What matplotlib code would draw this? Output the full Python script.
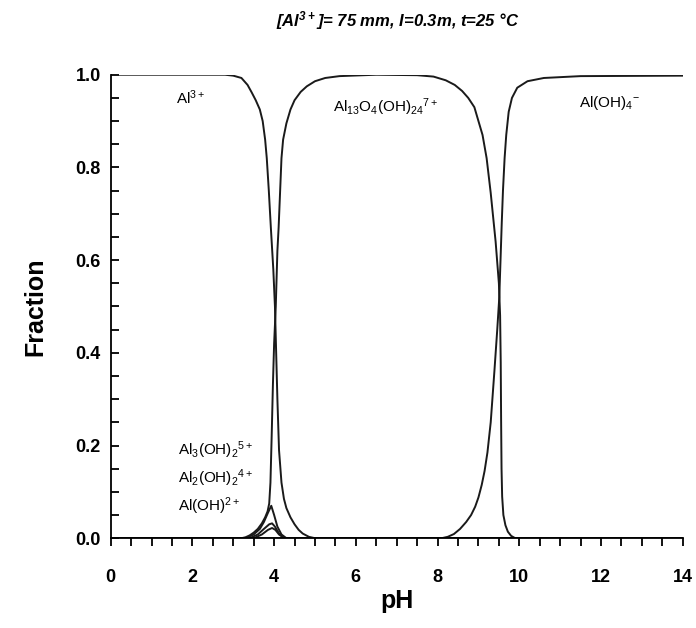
import matplotlib
matplotlib.use("Agg")
import matplotlib.pyplot as plt
from matplotlib.ticker import MultipleLocator

plt.rcParams['font.family'] = ['Liberation Sans', 'DejaVu Sans']
plt.rcParams['mathtext.default'] = 'regular'

# values
al3_ph = [0, 2.0, 2.8, 3.0, 3.2, 3.35, 3.45, 3.55, 3.65, 3.72, 3.78, 3.82, 3.87, 3.92, 3.98,
          4.02, 4.05, 4.08, 4.12, 4.18, 4.24, 4.3, 4.4, 4.5, 4.6, 4.7, 4.85, 5.0, 14]
al3_frac = [1.0, 1.0, 1.0, 0.998, 0.993, 0.978, 0.962, 0.945, 0.925, 0.90, 0.86, 0.82, 0.75, 0.67, 0.58,
            0.50, 0.40, 0.30, 0.19, 0.12, 0.085, 0.065, 0.045, 0.03, 0.018, 0.01, 0.003, 0.0, 0.0]

al13_ph = [0, 3.2, 3.3, 3.4, 3.5, 3.6, 3.7, 3.78, 3.84, 3.88, 3.91, 3.94, 3.97, 4.0, 4.04,
           4.08, 4.11, 4.18, 4.22, 4.3, 4.4, 4.5, 4.65, 4.8, 5.0, 5.25, 5.6, 6.5, 7.5, 7.9,
           8.2, 8.42, 8.6, 8.75, 8.9, 9.0, 9.1, 9.2, 9.3, 9.42, 9.5, 9.53, 9.545, 9.555,
           9.565, 9.58, 9.61, 9.66, 9.72, 9.8, 9.9, 14]
al13_frac = [0.0, 0.0, 0.002, 0.006, 0.012, 0.02, 0.032, 0.045, 0.058, 0.075, 0.12, 0.22, 0.33, 0.42, 0.50,
             0.62, 0.67, 0.82, 0.86, 0.895, 0.925, 0.945, 0.963, 0.975, 0.986, 0.993, 0.997, 1.0, 0.999, 0.996,
             0.988, 0.978, 0.965, 0.95, 0.93, 0.90, 0.87, 0.82, 0.745, 0.64, 0.55, 0.48, 0.38, 0.25,
             0.15, 0.09, 0.05, 0.028, 0.014, 0.005, 0.0, 0.0]

aloh4_ph = [0, 8.1, 8.25, 8.4, 8.55, 8.7, 8.82, 8.92, 9.0, 9.08, 9.15, 9.22, 9.3, 9.39, 9.46,
            9.51, 9.54, 9.57, 9.6, 9.64, 9.68, 9.74, 9.82, 9.95, 10.2, 10.6, 11.5, 14]
aloh4_frac = [0.0, 0.0, 0.003, 0.009, 0.02, 0.035, 0.05, 0.068, 0.088, 0.115, 0.145, 0.185, 0.25, 0.36, 0.45,
              0.52, 0.60, 0.68, 0.75, 0.82, 0.87, 0.92, 0.95, 0.972, 0.986, 0.993, 0.997, 0.998]

aloh_ph = [0, 3.3, 3.5, 3.65, 3.75, 3.85, 3.93, 4.0, 4.08, 4.18, 4.3, 14]
aloh_frac = [0, 0, 0.008, 0.02, 0.035, 0.055, 0.07, 0.05, 0.025, 0.008, 0, 0]

al2_ph = [0, 3.4, 3.6, 3.75, 3.88, 3.95, 4.02, 4.12, 4.25, 14]
al2_frac = [0, 0, 0.008, 0.02, 0.03, 0.032, 0.025, 0.01, 0, 0]

al3oh_ph = [0, 3.5, 3.7, 3.85, 3.95, 4.03, 4.12, 4.25, 14]
al3oh_frac = [0, 0, 0.008, 0.018, 0.022, 0.018, 0.008, 0, 0]

series = [(al3_ph, al3_frac), (al13_ph, al13_frac), (aloh4_ph, aloh4_frac),
          (aloh_ph, aloh_frac), (al2_ph, al2_frac), (al3oh_ph, al3oh_frac)]

fig = plt.figure(figsize=(6.96, 6.28), dpi=100)
ax = fig.add_axes([0.159, 0.143, 0.822, 0.738])

for ph, fr in series:
    ax.plot(ph, fr, color='#1a1a1a', lw=1.4, solid_joinstyle='round')

ax.set_xlim(0, 14)
ax.set_ylim(0, 1.0)
ax.spines['top'].set_visible(False)
ax.spines['right'].set_visible(False)
ax.spines['left'].set_linewidth(1.3)
ax.spines['bottom'].set_linewidth(1.3)

ax.xaxis.set_major_locator(MultipleLocator(2))
ax.xaxis.set_minor_locator(MultipleLocator(0.5))
ax.yaxis.set_major_locator(MultipleLocator(0.2))
ax.yaxis.set_minor_locator(MultipleLocator(0.05))
ax.tick_params(axis='x', which='both', direction='out', length=6, width=1.3)
ax.tick_params(axis='y', which='both', direction='in', length=6, width=1.3)
ax.set_yticklabels([f"{v:.1f}" for v in ax.get_yticks()])
for lab in ax.get_xticklabels() + ax.get_yticklabels():
    lab.set_fontweight('bold')
    lab.set_fontsize(13)
ax.tick_params(axis='x', pad=16)
ax.tick_params(axis='y', pad=7)

ax.set_xlabel('pH', fontsize=18, fontweight='bold', labelpad=2)
ax.set_ylabel('Fraction', fontsize=18, fontweight='bold', labelpad=20)

fig.text(0.572, 0.968, '[Al$^{3+}$]= 75 mm, I=0.3m, t=25 °C', ha='center', va='center',
         fontsize=12, fontweight='bold', fontstyle='italic')

ax.text(1.6, 0.95, 'Al$^{3+}$', fontsize=11, va='center')
ax.text(5.45, 0.93, 'Al$_{13}$O$_4$(OH)$_{24}$$^{7+}$', fontsize=11, va='center')
ax.text(11.45, 0.94, 'Al(OH)$_4$$^{-}$', fontsize=11, va='center')
ax.text(1.65, 0.19, 'Al$_3$(OH)$_2$$^{5+}$', fontsize=11, va='center')
ax.text(1.65, 0.13, 'Al$_2$(OH)$_2$$^{4+}$', fontsize=11, va='center')
ax.text(1.65, 0.07, 'Al(OH)$^{2+}$', fontsize=11, va='center')

fig.savefig('out.png', dpi=100)
